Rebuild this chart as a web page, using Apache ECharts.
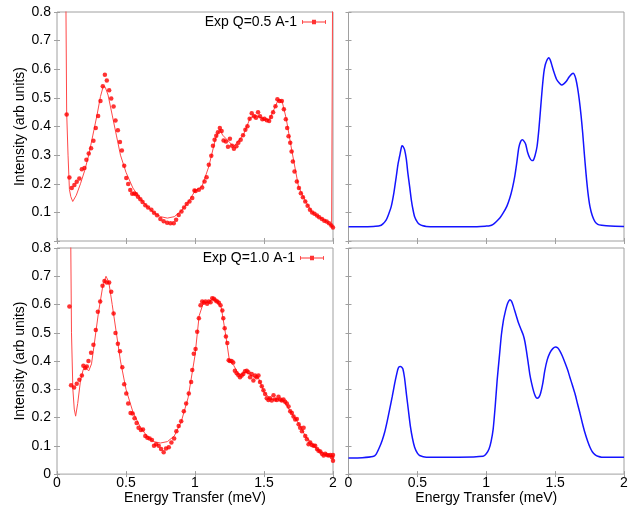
<!DOCTYPE html>
<html>
<head>
<meta charset="utf-8">
<script src="https://cdn.jsdelivr.net/npm/echarts@6/dist/echarts.min.js"></script>
<style>html,body{margin:0;padding:0;background:#fff}#c{width:641px;height:506px}</style>
</head>
<body>
<div id="c"></div>
<script>
// ---------- data ----------
const xTicks = [0, 0.5, 1, 1.5, 2];
const yTicks = [0, 0.1, 0.2, 0.3, 0.4, 0.5, 0.6, 0.7, 0.8];
const legendTop = 'Exp Q=0.5 A-1';
const legendBottom = 'Exp Q=1.0 A-1';

// Q = 0.5 experimental points
const q05X = [0.07,0.09,0.107,0.126,0.143,0.162,0.18,0.199,0.213,0.23,0.247,0.264,0.281,0.298,0.315,0.332,0.347,0.361,0.378,0.393,0.41,0.424,0.441,0.456,0.47,0.487,0.502,0.516,0.531,0.545,0.56,0.573,0.587,0.604,0.62,0.64,0.66,0.684,0.703,0.725,0.749,0.773,0.798,0.822,0.846,0.863,0.882,0.902,0.921,0.94,0.96,0.98,0.996,1.004,1.028,1.052,1.069,1.084,1.1,1.118,1.13,1.142,1.154,1.166,1.18,1.193,1.207,1.224,1.239,1.253,1.268,1.282,1.3,1.314,1.331,1.348,1.365,1.38,1.396,1.411,1.428,1.442,1.457,1.471,1.488,1.503,1.52,1.537,1.551,1.566,1.583,1.597,1.612,1.629,1.644,1.658,1.668,1.678,1.69,1.7,1.709,1.721,1.738,1.753,1.767,1.782,1.799,1.816,1.833,1.849,1.866,1.884,1.9,1.92,1.937,1.954,1.971,1.988,2.0];
const q05Y = [0.442,0.222,0.185,0.196,0.207,0.218,0.251,0.255,0.284,0.306,0.324,0.35,0.395,0.437,0.489,0.541,0.581,0.561,0.527,0.498,0.47,0.421,0.387,0.346,0.316,0.263,0.22,0.199,0.178,0.165,0.166,0.163,0.155,0.146,0.136,0.125,0.117,0.109,0.099,0.09,0.077,0.069,0.064,0.062,0.062,0.074,0.091,0.103,0.117,0.129,0.138,0.15,0.176,0.175,0.179,0.187,0.208,0.223,0.266,0.298,0.333,0.354,0.368,0.38,0.395,0.384,0.351,0.348,0.329,0.357,0.333,0.322,0.331,0.343,0.354,0.369,0.389,0.401,0.427,0.446,0.436,0.431,0.45,0.436,0.425,0.427,0.422,0.419,0.433,0.45,0.471,0.495,0.489,0.489,0.46,0.425,0.395,0.366,0.343,0.313,0.278,0.243,0.208,0.185,0.167,0.153,0.138,0.123,0.109,0.1,0.095,0.089,0.083,0.077,0.071,0.068,0.062,0.054,0.047];
// Q = 0.5 fit line
const q05FitX = [0.06,0.065,0.07,0.08,0.09,0.1,0.114,0.14,0.17,0.2,0.23,0.26,0.29,0.315,0.335,0.35,0.37,0.4,0.43,0.46,0.5,0.55,0.6,0.65,0.7,0.75,0.8,0.85,0.9,0.95,1.0,1.05,1.1,1.15,1.18,1.2,1.25,1.28,1.35,1.4,1.44,1.5,1.54,1.6,1.63,1.66,1.7,1.75,1.8,1.85,1.9,1.95,1.99,2.0,2.0];
const q05FitY = [1.2,0.8,0.45,0.3,0.18,0.155,0.138,0.16,0.2,0.245,0.3,0.37,0.44,0.505,0.54,0.537,0.51,0.44,0.37,0.3,0.24,0.185,0.15,0.122,0.1,0.085,0.08,0.085,0.105,0.135,0.175,0.19,0.26,0.36,0.39,0.37,0.345,0.33,0.37,0.43,0.44,0.425,0.425,0.49,0.49,0.43,0.32,0.19,0.14,0.1,0.083,0.07,0.05,0.047,1.2];

// Q = 1.0 experimental points
const q10X = [0.09,0.102,0.124,0.143,0.162,0.18,0.191,0.204,0.216,0.228,0.247,0.264,0.281,0.296,0.313,0.33,0.344,0.361,0.378,0.393,0.41,0.424,0.441,0.456,0.473,0.487,0.502,0.516,0.533,0.548,0.562,0.577,0.591,0.608,0.623,0.64,0.655,0.671,0.688,0.703,0.718,0.737,0.754,0.773,0.79,0.81,0.829,0.849,0.865,0.882,0.9,0.919,0.936,0.955,0.972,0.98,0.991,1.004,1.016,1.028,1.04,1.052,1.064,1.076,1.088,1.1,1.113,1.125,1.137,1.149,1.161,1.173,1.185,1.198,1.205,1.215,1.224,1.234,1.244,1.253,1.265,1.277,1.289,1.302,1.314,1.326,1.338,1.35,1.362,1.375,1.387,1.399,1.411,1.423,1.435,1.447,1.46,1.471,1.484,1.496,1.508,1.52,1.532,1.544,1.556,1.569,1.58,1.593,1.605,1.617,1.629,1.641,1.653,1.665,1.678,1.69,1.702,1.714,1.726,1.738,1.751,1.762,1.775,1.787,1.799,1.811,1.823,1.835,1.847,1.86,1.871,1.884,1.895,1.908,1.92,1.932,1.944,1.956,1.968,1.98,1.993,2.0,2.0];
const q10Y = [0.593,0.314,0.306,0.32,0.334,0.349,0.383,0.375,0.381,0.4,0.429,0.458,0.51,0.574,0.611,0.666,0.683,0.678,0.678,0.645,0.568,0.499,0.461,0.435,0.378,0.318,0.285,0.25,0.216,0.214,0.198,0.181,0.164,0.156,0.158,0.135,0.129,0.126,0.121,0.1,0.106,0.1,0.089,0.077,0.091,0.095,0.112,0.126,0.152,0.17,0.187,0.222,0.25,0.285,0.326,0.368,0.426,0.443,0.504,0.551,0.597,0.611,0.606,0.611,0.603,0.611,0.608,0.622,0.62,0.614,0.611,0.606,0.597,0.579,0.551,0.516,0.487,0.464,0.403,0.4,0.4,0.395,0.366,0.357,0.351,0.343,0.349,0.354,0.364,0.366,0.36,0.343,0.354,0.331,0.349,0.343,0.349,0.326,0.311,0.297,0.283,0.268,0.262,0.268,0.26,0.279,0.264,0.262,0.274,0.264,0.26,0.264,0.256,0.25,0.239,0.222,0.216,0.204,0.193,0.195,0.176,0.164,0.152,0.164,0.135,0.123,0.106,0.112,0.103,0.1,0.1,0.089,0.083,0.08,0.072,0.066,0.072,0.068,0.066,0.068,0.06,0.068,0.047];
// Q = 1.0 fit line
const q10FitX = [0.095,0.1,0.105,0.115,0.125,0.135,0.15,0.17,0.19,0.21,0.23,0.25,0.27,0.3,0.33,0.355,0.375,0.4,0.43,0.46,0.5,0.55,0.6,0.65,0.7,0.75,0.8,0.85,0.9,0.95,1.0,1.03,1.06,1.1,1.13,1.16,1.19,1.22,1.25,1.28,1.32,1.37,1.42,1.46,1.5,1.55,1.6,1.65,1.7,1.75,1.8,1.85,1.9,1.95,2.0];
const q10FitY = [1.2,0.8,0.5,0.3,0.23,0.205,0.25,0.33,0.37,0.375,0.365,0.39,0.46,0.57,0.66,0.7,0.68,0.6,0.5,0.4,0.3,0.22,0.17,0.135,0.115,0.11,0.115,0.135,0.185,0.27,0.42,0.56,0.605,0.61,0.62,0.61,0.59,0.5,0.4,0.385,0.35,0.362,0.345,0.34,0.29,0.265,0.265,0.255,0.215,0.18,0.135,0.105,0.082,0.068,0.06];

// Model curves (right panels)
const modelAX = [0.0,0.1,0.18,0.225,0.25,0.274,0.29,0.31,0.33,0.347,0.36,0.371,0.38,0.388,0.397,0.407,0.42,0.431,0.444,0.456,0.468,0.48,0.5,0.516,0.54,0.565,0.7,0.9,1.0,1.025,1.05,1.074,1.1,1.122,1.15,1.171,1.19,1.207,1.222,1.236,1.25,1.263,1.275,1.287,1.3,1.316,1.33,1.34,1.355,1.369,1.382,1.394,1.406,1.418,1.428,1.438,1.447,1.455,1.465,1.474,1.49,1.51,1.53,1.547,1.565,1.583,1.6,1.612,1.622,1.631,1.641,1.651,1.663,1.675,1.688,1.7,1.712,1.724,1.738,1.753,1.77,1.789,1.81,1.838,1.9,2.0];
const modelAY = [0.05,0.05,0.051,0.053,0.06,0.074,0.092,0.12,0.17,0.226,0.27,0.296,0.318,0.333,0.33,0.319,0.285,0.237,0.19,0.144,0.11,0.085,0.066,0.058,0.053,0.051,0.05,0.05,0.052,0.053,0.058,0.068,0.081,0.097,0.122,0.15,0.185,0.226,0.275,0.325,0.348,0.354,0.348,0.337,0.31,0.29,0.281,0.281,0.3,0.331,0.39,0.46,0.53,0.588,0.615,0.629,0.637,0.64,0.632,0.618,0.592,0.565,0.552,0.545,0.55,0.559,0.572,0.579,0.584,0.586,0.58,0.565,0.535,0.495,0.44,0.378,0.305,0.237,0.17,0.12,0.088,0.068,0.058,0.055,0.052,0.051];
const modelBX = [0.0,0.1,0.177,0.2,0.225,0.245,0.262,0.28,0.298,0.317,0.335,0.348,0.359,0.368,0.376,0.385,0.395,0.407,0.42,0.435,0.449,0.465,0.48,0.5,0.516,0.565,0.8,0.977,1.0,1.02,1.035,1.05,1.065,1.079,1.095,1.11,1.125,1.135,1.145,1.154,1.163,1.171,1.183,1.195,1.213,1.231,1.25,1.268,1.28,1.292,1.304,1.316,1.33,1.345,1.358,1.369,1.382,1.394,1.41,1.425,1.443,1.462,1.483,1.503,1.52,1.535,1.553,1.571,1.59,1.607,1.625,1.644,1.662,1.68,1.698,1.716,1.735,1.753,1.77,1.789,1.81,1.838,1.9,2.0];
const modelBY = [0.057,0.058,0.062,0.07,0.095,0.12,0.147,0.185,0.227,0.273,0.32,0.35,0.372,0.38,0.381,0.379,0.372,0.34,0.285,0.225,0.17,0.125,0.095,0.074,0.066,0.06,0.06,0.063,0.072,0.089,0.115,0.158,0.24,0.331,0.415,0.493,0.545,0.568,0.588,0.603,0.612,0.617,0.612,0.597,0.568,0.539,0.515,0.493,0.47,0.435,0.395,0.354,0.32,0.291,0.274,0.268,0.272,0.285,0.32,0.366,0.405,0.429,0.444,0.45,0.446,0.435,0.417,0.395,0.37,0.343,0.315,0.285,0.25,0.216,0.18,0.147,0.118,0.095,0.079,0.069,0.063,0.06,0.06,0.06];

// ---------- chart ----------
const zip = (xs, ys) => xs.map((x, i) => [x, ys[i]]);
const FONT = "'Liberation Sans', Arial, Helvetica, sans-serif";
const BORDER = '#a0a0a0';
const grids = [
  {left: 57, top: 12, width: 276, height: 229},
  {left: 57, top: 248, width: 276, height: 229.5},
  {left: 348.5, top: 12, width: 275.5, height: 229},
  {left: 348.5, top: 248, width: 275.5, height: 229.5}
];
const xAxes = [], yAxes = [];
grids.forEach((g, i) => {
  const bottomRow = i === 1 || i === 3;
  const leftCol = i === 0 || i === 1;
  const base = {type: 'value', gridIndex: i, min: xTicks[0], max: xTicks[xTicks.length - 1], interval: 0.5,
    axisLine: {show: false}, splitLine: {show: false},
    axisTick: {show: true, inside: true, length: 3, lineStyle: {color: BORDER}}};
  xAxes.push(Object.assign({}, base, {position: 'bottom',
    axisLabel: {show: bottomRow, margin: 2, fontSize: 14, color: '#000', fontFamily: FONT,
      formatter: v => String(v)},
    name: bottomRow ? 'Energy Transfer (meV)' : '', nameLocation: 'middle', nameGap: 15,
    nameTextStyle: {fontSize: 14, color: '#000', fontFamily: FONT}}));
  xAxes.push(Object.assign({}, base, {position: 'top', axisLabel: {show: false}}));
  const ybase = {type: 'value', gridIndex: i, min: yTicks[0], max: yTicks[yTicks.length - 1], interval: 0.1,
    axisLine: {show: false}, splitLine: {show: false},
    axisTick: {show: true, inside: true, length: 3, lineStyle: {color: BORDER}}};
  yAxes.push(Object.assign({}, ybase, {position: 'left',
    axisLabel: {show: leftCol, margin: 6, fontSize: 14, color: '#000', fontFamily: FONT,
      formatter: v => v === 0 ? (i === 1 ? '0' : '') : v.toFixed(1)},
    name: leftCol ? 'Intensity (arb units)' : '', nameLocation: 'middle', nameGap: 28, nameRotate: 90,
    nameTextStyle: {fontSize: 14, color: '#000', fontFamily: FONT}}));
  yAxes.push(Object.assign({}, ybase, {position: 'right', axisLabel: {show: false}}));
});

const legendIcon = 'path://M0,2.5L24,2.5L24,3.5L0,3.5Z M0,1L0.8,1L0.8,5L0,5Z M23.2,1L24,1L24,5L23.2,5Z M10,0.8L14,0.8L14,5.2L10,5.2Z';
const legendBase = {orient: 'horizontal', align: 'right', itemWidth: 24, itemHeight: 6, itemGap: 5,
  selectedMode: false, padding: 0, textStyle: {fontSize: 14, color: '#000', fontFamily: FONT}};

const option = {
  animation: false,
  backgroundColor: '#fff',
  grid: grids.map(g => Object.assign({show: true, borderColor: BORDER, borderWidth: 1, backgroundColor: '#fff'}, g)),
  xAxis: xAxes,
  yAxis: yAxes,
  legend: [
    Object.assign({}, legendBase, {right: 641 - 326, top: 15, data: [{name: legendTop, icon: legendIcon}]}),
    Object.assign({}, legendBase, {right: 641 - 324, top: 251, data: [{name: legendBottom, icon: legendIcon}]})
  ],
  series: [
    {type: 'line', name: 'fit05', xAxisIndex: 0, yAxisIndex: 0, data: zip(q05FitX, q05FitY), showSymbol: false,
      lineStyle: {color: '#ff4848', width: 1}, clip: true, z: 2},
    {type: 'scatter', name: legendTop, xAxisIndex: 0, yAxisIndex: 0, data: zip(q05X, q05Y), symbolSize: 4.5,
      itemStyle: {color: '#ff0000'}, z: 3},
    {type: 'line', name: 'fit10', xAxisIndex: 2, yAxisIndex: 2, data: zip(q10FitX, q10FitY), showSymbol: false,
      lineStyle: {color: '#ff4848', width: 1}, clip: true, z: 2},
    {type: 'scatter', name: legendBottom, xAxisIndex: 2, yAxisIndex: 2, data: zip(q10X, q10Y), symbolSize: 4.5,
      itemStyle: {color: '#ff0000'}, z: 3},
    {type: 'line', name: 'modelA', xAxisIndex: 4, yAxisIndex: 4, data: zip(modelAX, modelAY), showSymbol: false,
      smooth: 0.2, lineStyle: {color: '#1414ff', width: 1.5}},
    {type: 'line', name: 'modelB', xAxisIndex: 6, yAxisIndex: 6, data: zip(modelBX, modelBY), showSymbol: false,
      smooth: 0.2, lineStyle: {color: '#1414ff', width: 1.5}}
  ]
};
const chart = echarts.init(document.getElementById('c'), null, {renderer: 'canvas'});
chart.setOption(option);
</script>
</body>
</html>
